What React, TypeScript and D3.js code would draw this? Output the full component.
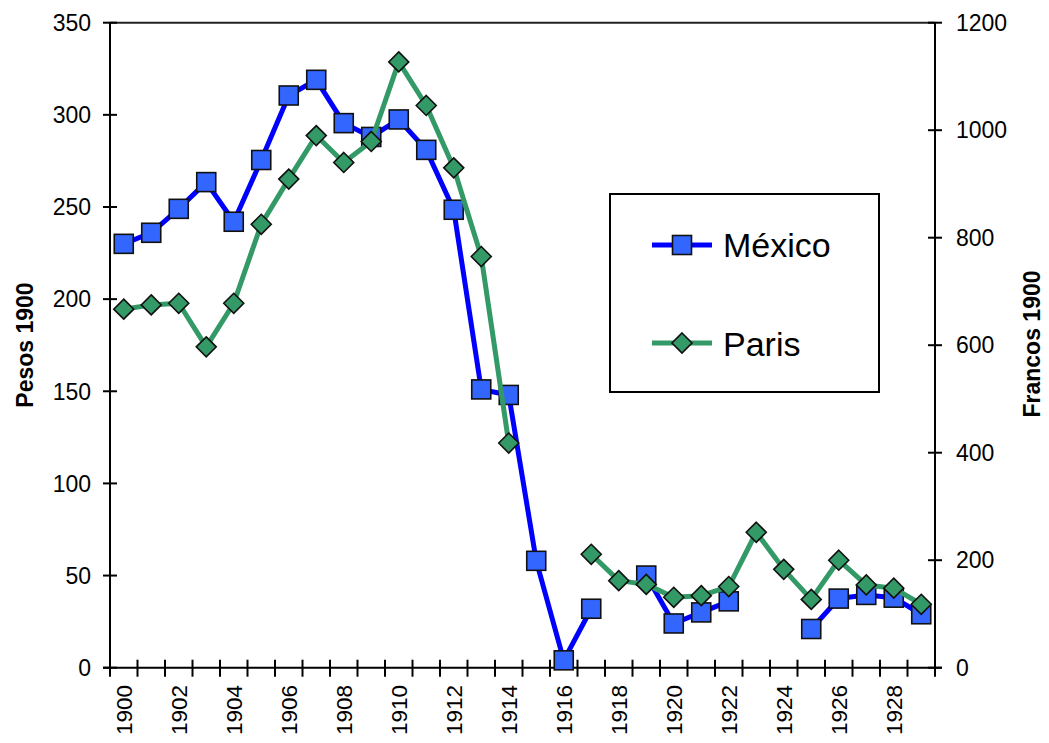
import React from "react";
import * as d3 from "d3";

const years: number[] = d3.range(1900, 1930);
const mexico: (number | null)[] = [230, 236, 249, 263.5, 242, 275.5, 310.5, 319, 295.5, 288, 297.5, 281, 248.5, 151, 148, 58, 4, 32, null, 50, 24, 30, 36, null, null, 21, 37.5, 39.5, 38, 29];
const paris: (number | null)[] = [667, 675, 678, 597, 678, 825, 909, 990, 940, 979, 1127, 1046, 930, 765, 418, null, null, 211, 162, 155, 131, 134, 151, 252, 183, 127, 200, 154, 148, 118];
const leftTicks: number[] = [0, 50, 100, 150, 200, 250, 300, 350];
const rightTicks: number[] = [0, 200, 400, 600, 800, 1000, 1200];
const seriesNames = ["México", "Paris"];
const leftTitle = "Pesos 1900";
const rightTitle = "Francos 1900";

const W = 1049, H = 743;
const L = 110, R = 935, T = 22.7, B = 667.7;
const FONT = "'Liberation Sans', Arial, sans-serif";
const BLUE = "#0000FF", SQ = "#3366FF", GREEN = "#339966";

export default function App() {
  const x = d3.scaleBand<number>().domain(years).range([L, R]).padding(0);
  const bw = x.bandwidth();
  const cx = (y: number) => (x(y) as number) + bw / 2;
  const yL = d3.scaleLinear().domain([0, 350]).range([B, T]);
  const yR = d3.scaleLinear().domain([0, 1200]).range([B, T]);

  const lineM = d3.line<number | null>()
    .defined((d) => d != null)
    .x((_, i) => cx(years[i]))
    .y((d) => yL(d as number));
  const lineP = d3.line<number | null>()
    .defined((d) => d != null)
    .x((_, i) => cx(years[i]))
    .y((d) => yR(d as number));

  const sq = 19;
  const dm = 10;
  const diamond = (px: number, py: number, r: number) =>
    `M${px},${py - r}L${px + r},${py}L${px},${py + r}L${px - r},${py}Z`;

  const boundaries = years.map((y) => x(y) as number).concat([R]);

  return (
    <svg width={W} height={H} style={{ position: "absolute", left: 0, top: 0, background: "#fff" }} fontFamily={FONT}>
      <rect x={0} y={0} width={W} height={H} fill="#fff" />
      <line x1={L} x2={R} y1={T} y2={T} stroke="#222" strokeWidth={2} />
      <line x1={L} x2={L} y1={T} y2={B} stroke="#000" strokeWidth={2} />
      {leftTicks.map((t) => (
        <g key={"l" + t}>
          <line x1={L - 7} x2={L + 7} y1={yL(t)} y2={yL(t)} stroke="#000" strokeWidth={2} />
          <text x={91} y={yL(t)} dy="0.36em" textAnchor="end" fontSize={23}>{t}</text>
        </g>
      ))}
      <line x1={R} x2={R} y1={T} y2={B} stroke="#000" strokeWidth={2} />
      {rightTicks.map((t) => (
        <g key={"r" + t}>
          <line x1={R - 7} x2={R + 7} y1={yR(t)} y2={yR(t)} stroke="#000" strokeWidth={2} />
          <text x={956} y={yR(t)} dy="0.36em" textAnchor="start" fontSize={23}>{t}</text>
        </g>
      ))}
      <line x1={L - 7} x2={R + 7} y1={B} y2={B} stroke="#000" strokeWidth={2} />
      {boundaries.map((bx, i) => (
        <line key={"b" + i} x1={bx} x2={bx} y1={B - 8} y2={B + 9} stroke="#000" strokeWidth={2} />
      ))}
      {years.filter((y) => y % 2 === 0).map((y) => (
        <text key={"x" + y} transform={`translate(${cx(y) + 8},685) rotate(-90)`} textAnchor="end" fontSize={22.5}>{y}</text>
      ))}
      <text transform={`translate(33,345) rotate(-90)`} textAnchor="middle" fontSize={23} fontWeight="bold">{leftTitle}</text>
      <text transform={`translate(1040,344) rotate(-90)`} textAnchor="middle" fontSize={23} fontWeight="bold">{rightTitle}</text>

      <path d={lineM(mexico) || ""} fill="none" stroke={BLUE} strokeWidth={5} strokeLinejoin="round" />
      {mexico.map((v, i) => v == null ? null : (
        <rect key={"m" + i} x={cx(years[i]) - sq / 2} y={yL(v) - sq / 2} width={sq} height={sq} fill={SQ} stroke="#111" strokeWidth={1.6} />
      ))}
      <path d={lineP(paris) || ""} fill="none" stroke={GREEN} strokeWidth={5} strokeLinejoin="round" />
      {paris.map((v, i) => v == null ? null : (
        <path key={"p" + i} d={diamond(cx(years[i]), yR(v), dm)} fill={GREEN} stroke="#111" strokeWidth={1.6} />
      ))}

      <rect x={610} y={194} width={269} height={198} fill="#fff" stroke="#000" strokeWidth={2} />
      <line x1={652} x2={712} y1={245} y2={245} stroke={BLUE} strokeWidth={5} />
      <rect x={682 - sq / 2} y={245 - sq / 2} width={sq} height={sq} fill={SQ} stroke="#111" strokeWidth={1.6} />
      <text x={723} y={257} fontSize={34}>{seriesNames[0]}</text>
      <line x1={652} x2={712} y1={343} y2={343} stroke={GREEN} strokeWidth={5} />
      <path d={diamond(682, 343, dm)} fill={GREEN} stroke="#111" strokeWidth={1.6} />
      <text x={723} y={355.5} fontSize={34}>{seriesNames[1]}</text>
    </svg>
  );
}
